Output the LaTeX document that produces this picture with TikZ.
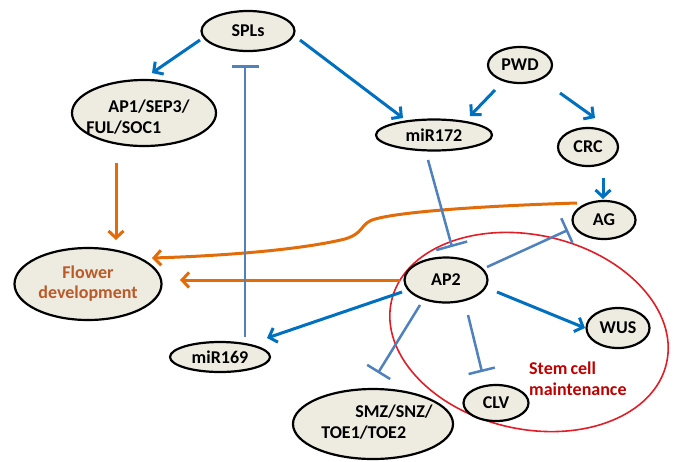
\documentclass[tikz,border=0pt]{standalone}
\usepackage{fontspec}
\setmainfont{Carlito}
\usetikzlibrary{arrows.meta,shapes.geometric,calc}
\definecolor{beige}{HTML}{EEECE1}
\definecolor{actblue}{HTML}{0070C0}
\definecolor{inhblue}{HTML}{4F81BD}
\definecolor{orangeln}{HTML}{E36C0A}
\definecolor{flowertxt}{RGB}{185,90,40}
\definecolor{stemred}{HTML}{C00000}
\definecolor{ringred}{RGB}{225,30,40}
\begin{document}
\begin{tikzpicture}[x=1pt,y=-1pt,
  gene/.style={ellipse, draw=black, line width=2.2pt, fill=beige, inner sep=0pt,
    font=\fontsize{18}{20}\selectfont\bfseries, text=black},
  txt/.style={inner sep=0pt, font=\fontsize{18}{21}\selectfont\bfseries},
  act/.style={draw=actblue, line width=3pt, -{Straight Barb[length=7pt,width=15pt]}},
  inh/.style={draw=inhblue, line width=2.5pt, -{Bar[width=27pt]}},
  promo/.style={draw=orangeln, line width=3pt, -{Straight Barb[length=7pt,width=15pt]}}]
\useasboundingbox[fill=white] (0,0) rectangle (676,461);

% red ring
\draw[ringred, line width=1.6pt, shift={(529,332)}, rotate=-12.7] (0,0) ellipse [x radius=141, y radius=97];

% nodes
\node[gene, minimum width=93pt, minimum height=40pt] (SPLs) at (248,31) {SPLs};
\node[gene, minimum width=144pt, minimum height=66pt] (AP1) at (144,113) {};
\node[txt, align=left] (AP1t) at (138,117) {\hspace*{22pt}AP1/SEP3/\\FUL/SOC1};
\node[gene, minimum width=64pt, minimum height=36pt] (PWD) at (520,65) {PWD};
\node[gene, minimum width=116pt, minimum height=31pt] (miR172) at (434,135) {miR172};
\node[gene, minimum width=60pt, minimum height=38pt] (CRC) at (588,147) {CRC};
\node[gene, minimum width=63pt, minimum height=38pt] (AG) at (604,220) {AG};
\node[gene, minimum width=147pt, minimum height=72pt, align=center, text=flowertxt] (FD) at (88,284) {Flower\\development};
\node[gene, minimum width=83pt, minimum height=45pt] (AP2) at (446,280) {AP2};
\node[gene, minimum width=63pt, minimum height=40pt] (WUS) at (618,328) {WUS};
\node[gene, minimum width=100pt, minimum height=30pt] (miR169) at (220,357) {miR169};
\node[gene, minimum width=65pt, minimum height=36pt] (CLV) at (496,403) {CLV};
\node[gene, minimum width=160pt, minimum height=70pt] (SMZ) at (373,424) {};
\node[txt, align=left] (SMZt) at (377,422) {\hspace*{34pt}SMZ/SNZ/\\TOE1/TOE2};
\node[txt, align=left, anchor=west, text=stemred] (stem) at (529,379) {Stem\hspace{-1pt} cell\\maintenance};

% activation arrows
\draw[act] ($(SPLs.center)+(-48,9)$) -- ($(AP1.center)+(8,-40)$);
\draw[act] ($(SPLs.center)+(52,9)$) -- ($(miR172.center)+(-31,-17)$);
\draw[act] ($(PWD.center)+(-25,25)$) -- ($(miR172.center)+(36,-19)$);
\draw[act] ($(PWD.center)+(40,28)$) -- ($(CRC.center)+(7,-29)$);
\draw[act] ($(CRC.center)+(15,31)$) -- ($(AG.center)+(-1,-21)$);
\draw[act] ($(AP2.center)+(51,12)$) -- ($(WUS.center)+(-33,0)$);
\draw[act] ($(AP2.center)+(-44,12)$) -- ($(miR169.center)+(47,-19)$);

% promotion of flower development
\draw[promo] ($(AP1.center)+(-28,50)$) -- ($(FD.center)+(28,-44)$);
\draw[promo] ($(AP2.center)+(-46,0)$) -- ($(FD.center)+(92,-4)$);
\draw[promo] ($(AG.center)+(-27,-17)$) .. controls (480,206) and (395,212) .. (372,220)
  .. controls (360,225) and (364,233) .. (345,239)
  .. controls (300,250) and (220,256) .. ($(FD.center)+(64,-26)$);

% inhibition
\draw[inh] ($(miR169.center)+(25,-20)$) -- ($(SPLs.center)+(-3,34)$);
\draw[inh, -{Bar[width=32pt]}] ($(miR172.center)+(-6,25)$) -- ($(AP2.center)+(6,-33)$);
\draw[inh] ($(AP2.center)+(41,-13)$) -- ($(AG.center)+(-36,10)$);
\draw[inh] ($(AP2.center)+(22,35)$) -- ($(CLV.center)+(-14,-31)$);
\draw[inh] ($(AP2.center)+(-26,25)$) -- ($(SMZ.center)+(5,-51)$);
\end{tikzpicture}
\end{document}
